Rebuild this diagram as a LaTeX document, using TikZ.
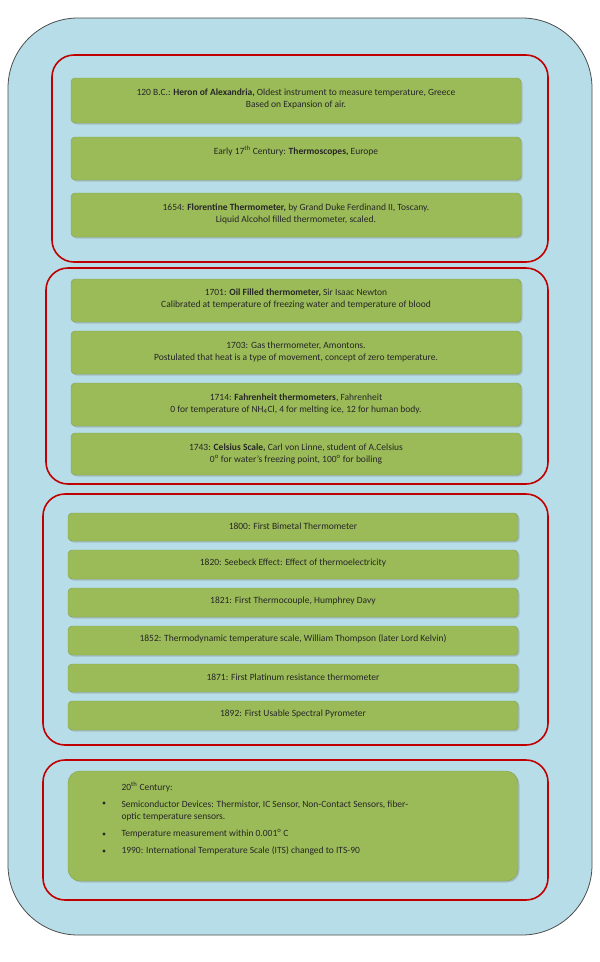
\documentclass[tikz,border=0pt]{standalone}
\usepackage{fontspec}
\setmainfont{Carlito}
\usetikzlibrary{shadows}
\definecolor{bg}{HTML}{B7DEE8}
\definecolor{grn}{HTML}{9BBB59}
\definecolor{rd}{HTML}{C00000}
\tikzset{
 box/.style={draw=grn!85!black,line width=0.4pt,fill=grn,rounded corners=4pt,drop shadow={shadow xshift=1.5pt,shadow yshift=-1.5pt,opacity=0.35}},
 grp/.style={draw=rd,line width=1.6pt,rounded corners=22pt},
 txt/.style={font=\fontsize{9.5}{12.5}\selectfont,align=center,text=black!85}
}
\begin{document}
\begin{tikzpicture}[x=1pt,y=-1pt]
\useasboundingbox (0,0) rectangle (600,962);
\fill[white] (0,0) rectangle (600,962);
\draw[fill=bg,draw=black!70,line width=0.8pt,rounded corners=70pt] (8,18) rectangle (592,935);
\draw[grp] (52,55) rectangle (548,262);
\draw[grp] (46,268) rectangle (548,484);
\draw[grp] (43,494) rectangle (548,745);
\draw[grp] (43,760) rectangle (548,900);
% group 1
\draw[box] (71,78) rectangle (521,123);
\node[txt] (a1) at (296,99) {120 B.C.: \textbf{Heron of Alexandria,} Oldest instrument to measure temperature, Greece\\Based on Expansion of air.};
\draw[box] (71,137) rectangle (521,180);
\node[txt] (a2) at (296,151) {Early 17\textsuperscript{th} Century: \textbf{Thermoscopes,} Europe};
\draw[box] (71,193) rectangle (521,237);
\node[txt] (a3) at (296,214) {1654: \textbf{Florentine Thermometer,} by Grand Duke Ferdinand II, Toscany.\\Liquid Alcohol filled thermometer, scaled.};
% group 2
\draw[box] (71,279) rectangle (521,322);
\node[txt] (b1) at (296,299) {1701: \textbf{Oil Filled thermometer,} Sir Isaac Newton\\Calibrated at temperature of freezing water and temperature of blood};
\draw[box] (71,331) rectangle (521,374);
\node[txt] (b2) at (296,352) {1703: Gas thermometer, Amontons.\\Postulated that heat is a type of movement, concept of zero temperature.};
\draw[box] (71,383) rectangle (521,426);
\node[txt] (b3) at (296,404) {1714: \textbf{Fahrenheit thermometers}, Fahrenheit\\0 for temperature of NH\textsubscript{4}Cl, 4 for melting ice, 12 for human body.};
\draw[box] (71,433) rectangle (521,475);
\node[txt] (b4) at (296,454) {1743: \textbf{Celsius Scale,} Carl von Linne, student of A.Celsius\\0\textsuperscript{o} for water’s freezing point, 100\textsuperscript{o} for boiling};
% group 3
\draw[box] (68,513) rectangle (518,541);
\node[txt] (c1) at (293,526) {1800: First Bimetal Thermometer};
\draw[box] (68,550) rectangle (518,579);
\node[txt] (c2) at (293,563) {1820: Seebeck Effect: Effect of thermoelectricity};
\draw[box] (68,588) rectangle (518,617);
\node[txt] (c3) at (293,601) {1821: First Thermocouple, Humphrey Davy};
\draw[box] (68,626) rectangle (518,655);
\node[txt] (c4) at (293,639) {1852: Thermodynamic temperature scale, William Thompson (later Lord Kelvin)};
\draw[box] (68,664) rectangle (518,692);
\node[txt] (c5) at (293,677) {1871: First Platinum resistance thermometer};
\draw[box] (68,701) rectangle (518,730);
\node[txt] (c6) at (293,714) {1892: First Usable Spectral Pyrometer};
% group 4
\draw[box,rounded corners=12pt] (68,771) rectangle (518,881);
\node[txt,anchor=west] (d0) at (118,787) {20\textsuperscript{th} Century:};
\node[txt,anchor=west,align=left] (d1) at (118,811) {Semiconductor Devices: Thermistor, IC Sensor, Non-Contact Sensors, fiber-\\optic temperature sensors.};
\node[txt,anchor=west] (d2) at (118,834) {Temperature measurement within 0.001\textsuperscript{o} C};
\node[txt,anchor=west] (d3) at (118,851) {1990: International Temperature Scale (ITS) changed to ITS-90};
\foreach \y in {803,834,851} \fill[black!85] (104,\y) circle (1.6pt);
\end{tikzpicture}
\end{document}
